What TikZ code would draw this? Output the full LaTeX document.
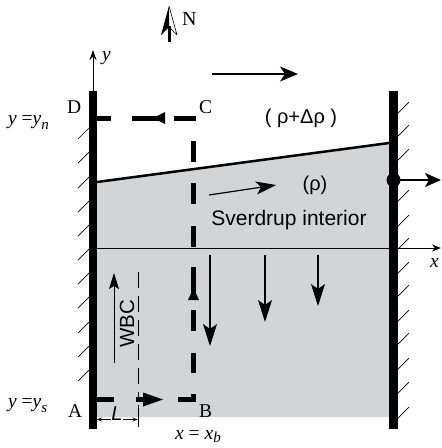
\documentclass[tikz,border=0pt]{standalone}
\usepackage{fontspec}
\setmainfont{Liberation Serif}
\setsansfont{Liberation Sans}
\usetikzlibrary{arrows.meta}
\definecolor{sea}{RGB}{211,212,214}
\begin{document}
\begin{tikzpicture}[x=1pt,y=-1pt,
  hatch/.style={line width=0.7pt},
  thickdash/.style={line width=5pt},
  thin/.style={line width=1pt},
  serif/.style={font=\fontsize{19.5}{19.5}\selectfont, inner sep=0pt, anchor=base west},
  sans/.style={font=\fontsize{20}{20}\selectfont\sffamily, inner sep=0pt},
  bigarrow/.style={-{Stealth[length=22pt,width=14pt,inset=5pt]}, line width=1.2pt},
]
\useasboundingbox (0,0) rectangle (442,448);
% ocean interior
\fill[sea] (97,182) -- (389,143) -- (389,417) -- (97,417) -- cycle;
\draw[line width=2.5pt] (97,182) -- (389,143);
% axes
\coordinate (xs) at (97,248);
\coordinate (xe) at (441,248);
\draw[thin, -{Stealth[length=9pt,width=7pt]}] (xs) -- (xe);
\node[serif] (xl) at (430,267) {\textit{x}};
\coordinate (ys) at (93,91);
\coordinate (ye) at (93,50);
\draw[thin, -{Stealth[length=10pt,width=7pt]}] (ys) -- (ye);
\node[serif] (yl) at (102,60) {\textit{y}};
% walls
\fill (89,91) rectangle (97,429);
\fill (389,91) rectangle (398,429);
\foreach \hy in {128,152,177,201,225,249,273,297,322,346,370}
  \draw[hatch] (89,\hy) -- ++(-11,11);
\foreach \hy in {102,125,149,190,215,238,262,285,310,333,358,382,407}
  \draw[hatch] (409,\hy) -- ++(-11,11);
% thick dashed circuit ABCD
\draw[thickdash] (97,118) -- (111,118);
\draw[thickdash] (132,118) -- (165,118);
\fill (153,118) -- (165,112) -- (165,124) -- cycle;
\draw[thickdash] (174,118) -- (196,118);
\foreach \a/\b in {141/162,183/204,226/247,267/300,310/331,353/373}
  \draw[thickdash] (193.5,\a) -- (193.5,\b);
\fill (193.5,288) -- (188,300) -- (199,300) -- cycle;
\draw[thickdash] (178,399.5) -- (196,399.5);
\fill (191,394) rectangle (196,402);
\draw[thickdash] (97,399.5) -- (114,399.5);
\draw[thickdash] (136,399.5) -- (145,399.5);
\fill (143,392.5) -- (163,399.5) -- (143,406.5) -- cycle;
% WBC boundary
\draw[thin, dash pattern=on 16pt off 8pt] (138,272) -- (138,402);
\draw[thin] (138,405) -- (138,427);
\node[sans, font=\fontsize{20}{20}\selectfont\sffamily\itshape] (L) at (117,414) {L};
\draw[thin, -{Stealth[length=5pt,width=4pt]}] (L.west|-0,419.5) -- (97,419.5);
\draw[thin, -{Stealth[length=5pt,width=4pt]}] (L.east|-0,419.5) -- (137.5,419.5);
\draw[thin, -{Stealth[length=16pt,width=10pt,inset=3pt]}] (114,363) -- (114,273);
\node[sans, rotate=90, font=\fontsize{20.5}{20.5}\selectfont\sffamily] (wbc) at (127,324) {WBC};
% interior flows
\draw[bigarrow] (210,255) -- (210,346);
\draw[bigarrow] (265,255) -- (265,322);
\draw[bigarrow] (318,255) -- (318,306);
\draw[-{Stealth[length=18pt,width=15pt,inset=5pt]}, line width=1.2pt] (212,74) -- (298,74);
\draw[-{Stealth[length=20pt,width=13pt,inset=5pt]}, line width=1.2pt] (209,195) -- (276,185);
\fill (393.5,180) circle (7);
\draw[-{Stealth[length=16pt,width=14pt,inset=4pt]}, line width=1.2pt] (393.5,180) -- (441,180);
% north arrow
\draw[line width=3pt] (169,42) -- (169,26);
\fill (169,6) -- (161,35) -- (169,27) -- cycle;
\draw[line width=0.6pt, line join=round] (169,6) -- (177,35) -- (169,27);
\node[serif, font=\fontsize{20}{20}\selectfont] (N) at (182,25) {N};
% labels
\node[serif] (D) at (67,113) {D};
\node[serif] (C) at (199,113) {C};
\node[serif] (A) at (68,417) {A};
\node[serif] (B) at (199,417) {B};
\node[serif] (yn) at (8,124) {\textit{y} =\textit{y}\raisebox{-0.3em}{\fontsize{15}{15}\selectfont\textit{n}}};
\node[serif] (ysl) at (8,407) {\textit{y} =\textit{y}\raisebox{-0.3em}{\fontsize{15}{15}\selectfont\textit{s}}};
\node[serif] (xb) at (175,439) {\textit{x} = \textit{x}\raisebox{-0.2em}{\fontsize{15}{15}\selectfont\textit{b}}};
\node[sans] (rho2) at (301,118) {( ρ+Δρ )};
\node[sans] (rho) at (315,185) {(ρ)};
\node[sans, font=\fontsize{21}{21}\selectfont\sffamily] (sv) at (289,220) {Sverdrup interior};
\end{tikzpicture}
\end{document}
